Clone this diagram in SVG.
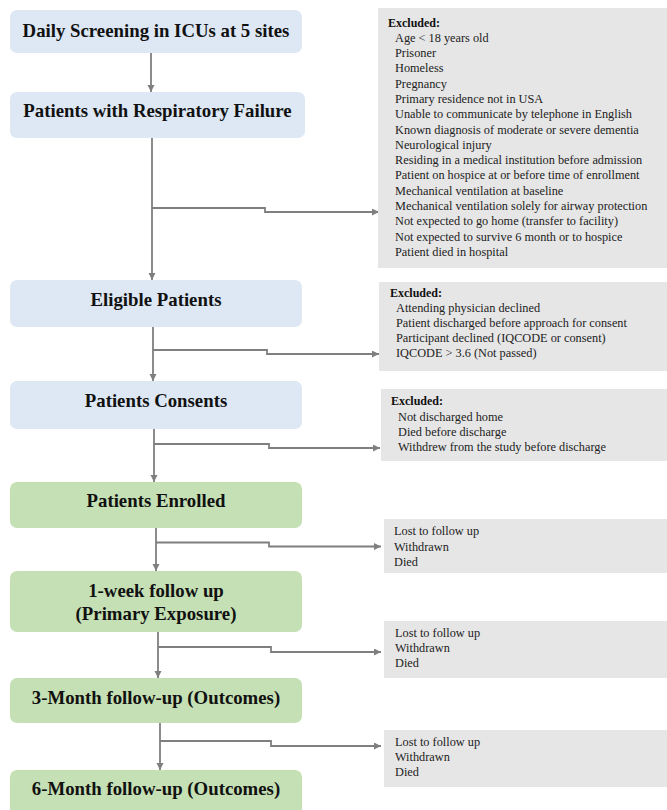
<svg xmlns="http://www.w3.org/2000/svg" width="667" height="810" viewBox="0 0 667 810">
<style>
.blue{fill:#dde8f4}
.green{fill:#c5e0b4}
.grey{fill:#e6e6e6}
.title{font-family:"Liberation Serif","Times New Roman",serif;font-weight:bold;font-size:18.8px;fill:#111;text-anchor:middle}
.ex{font-family:"Liberation Serif","Times New Roman",serif;font-size:12.3px;fill:#222}
.exb{font-family:"Liberation Serif","Times New Roman",serif;font-size:12px;font-weight:bold;fill:#111}
.ln{fill:none;stroke:#7f7f7f;stroke-width:1.8}
</style>
<defs>
<marker id="ah" markerUnits="userSpaceOnUse" markerWidth="8" markerHeight="8" refX="7" refY="3.5" orient="auto">
<path d="M0,0 L7,3.5 L0,7 z" fill="#7f7f7f"/>
</marker>
</defs>
<rect width="667" height="810" fill="#ffffff"/>

<g id="connectors">
<path class="ln" d="M151,53 V92" marker-end="url(#ah)"/>
<path class="ln" d="M152,138 V280" marker-end="url(#ah)"/>
<path class="ln" d="M152,208 H265 V212 H379" marker-end="url(#ah)"/>
<path class="ln" d="M153,327 V381" marker-end="url(#ah)"/>
<path class="ln" d="M153,350 H267 V354 H379" marker-end="url(#ah)"/>
<path class="ln" d="M154,429 V482" marker-end="url(#ah)"/>
<path class="ln" d="M154,444 H269 V448 H380" marker-end="url(#ah)"/>
<path class="ln" d="M156,528 V571" marker-end="url(#ah)"/>
<path class="ln" d="M156,542.5 H269 V546.5 H381" marker-end="url(#ah)"/>
<path class="ln" d="M158,632 V678" marker-end="url(#ah)"/>
<path class="ln" d="M158,647 H271 V652 H381" marker-end="url(#ah)"/>
<path class="ln" d="M160,723 V770" marker-end="url(#ah)"/>
<path class="ln" d="M160,741 H271 V746 H381" marker-end="url(#ah)"/>
</g>

<g id="n1"><rect class="blue" x="10" y="10" width="292" height="43" rx="7"/>
<text class="title" x="156" y="37">Daily Screening in ICUs at 5 sites</text></g>

<g id="n2"><rect class="blue" x="10" y="92" width="295" height="46" rx="7"/>
<text class="title" x="157.5" y="117">Patients with Respiratory Failure</text></g>

<g id="n3"><rect class="blue" x="10" y="280" width="292" height="47" rx="7"/>
<text class="title" x="156" y="306">Eligible Patients</text></g>

<g id="n4"><rect class="blue" x="10" y="381" width="292" height="48" rx="7"/>
<text class="title" x="156" y="407">Patients Consents</text></g>

<g id="n5"><rect class="green" x="10" y="482" width="292" height="46" rx="7"/>
<text class="title" x="156" y="507">Patients Enrolled</text></g>

<g id="n6"><rect class="green" x="10" y="571" width="292" height="61" rx="7"/>
<text class="title" x="156" y="597">1-week follow up</text>
<text class="title" x="156" y="620">(Primary Exposure)</text></g>

<g id="n7"><rect class="green" x="10" y="678" width="292" height="45" rx="7"/>
<text class="title" x="156" y="704">3-Month follow-up (Outcomes)</text></g>

<g id="n8"><rect class="green" x="10" y="770" width="292" height="50" rx="7"/>
<text class="title" x="156" y="795">6-Month follow-up (Outcomes)</text></g>

<g id="ex1"><rect class="grey" x="378" y="8" width="289" height="260"/>
<text class="exb" x="388" y="26.5">Excluded:</text>
<text class="ex" x="395" y="41.7">Age &lt; 18 years old</text>
<text class="ex" x="395" y="57">Prisoner</text>
<text class="ex" x="395" y="72.3">Homeless</text>
<text class="ex" x="395" y="87.6">Pregnancy</text>
<text class="ex" x="395" y="102.9">Primary residence not in USA</text>
<text class="ex" x="395" y="118.2">Unable to communicate by telephone in English</text>
<text class="ex" x="395" y="133.5">Known diagnosis of moderate or severe dementia</text>
<text class="ex" x="395" y="148.8">Neurological injury</text>
<text class="ex" x="395" y="164.1">Residing in a medical institution before admission</text>
<text class="ex" x="395" y="179.4">Patient on hospice at or before time of enrollment</text>
<text class="ex" x="395" y="194.7">Mechanical ventilation at baseline</text>
<text class="ex" x="395" y="210">Mechanical ventilation solely for airway protection</text>
<text class="ex" x="395" y="225.3">Not expected to go home (transfer to facility)</text>
<text class="ex" x="395" y="240.6">Not expected to survive 6 month or to hospice</text>
<text class="ex" x="395" y="255.9">Patient died in hospital</text></g>

<g id="ex2"><rect class="grey" x="379" y="282" width="288" height="89"/>
<text class="exb" x="390" y="297.3">Excluded:</text>
<text class="ex" x="396" y="312.3">Attending physician declined</text>
<text class="ex" x="396" y="327.3">Patient discharged before approach for consent</text>
<text class="ex" x="396" y="342.3">Participant declined (IQCODE or consent)</text>
<text class="ex" x="396" y="357.3">IQCODE &gt; 3.6 (Not passed)</text></g>

<g id="ex3"><rect class="grey" x="381" y="389" width="286" height="72"/>
<text class="exb" x="391" y="405">Excluded:</text>
<text class="ex" x="398" y="420.5">Not discharged home</text>
<text class="ex" x="398" y="435.7">Died before discharge</text>
<text class="ex" x="398" y="451">Withdrew from the study before discharge</text></g>

<g id="lost1"><rect class="grey" x="384" y="519" width="283" height="54"/>
<text class="ex" x="394" y="535">Lost to follow up</text>
<text class="ex" x="394" y="550.5">Withdrawn</text>
<text class="ex" x="394" y="565.7">Died</text></g>

<g id="lost2"><rect class="grey" x="384" y="621" width="283" height="57"/>
<text class="ex" x="395" y="637">Lost to follow up</text>
<text class="ex" x="395" y="652.3">Withdrawn</text>
<text class="ex" x="395" y="667.3">Died</text></g>

<g id="lost3"><rect class="grey" x="384" y="730" width="283" height="57"/>
<text class="ex" x="395" y="746">Lost to follow up</text>
<text class="ex" x="395" y="761">Withdrawn</text>
<text class="ex" x="395" y="776">Died</text></g>
</svg>
